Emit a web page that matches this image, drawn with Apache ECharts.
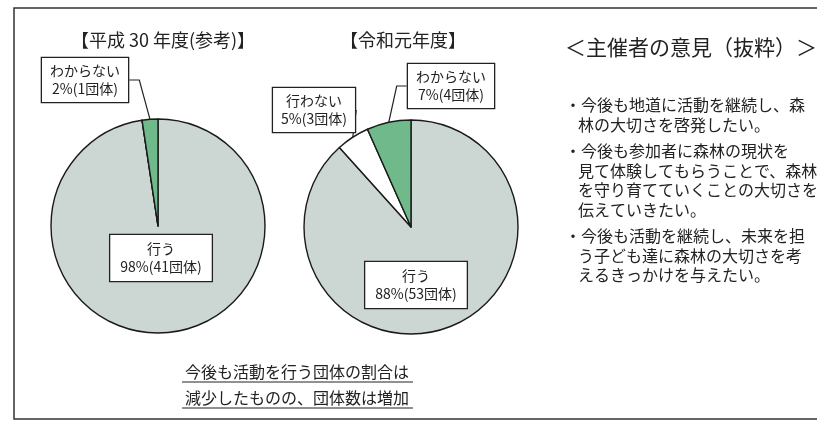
<!DOCTYPE html>
<html>
<head>
<meta charset="utf-8">
<script src="https://cdn.jsdelivr.net/npm/echarts@6/dist/echarts.min.js"></script>
<style>
  html, body { margin: 0; padding: 0; background: #fff; }
  #chart { width: 817px; height: 422px; }
</style>
</head>
<body>
<div id="chart"></div>
<script>
// answers and number of groups per year
const categories = ['行う', '行わない', 'わからない'];
const countsH30 = [41, 0, 1];
const countsR1 = [53, 3, 4];

const pieTitles = ['【平成 30 年度(参考)】', '【令和元年度】'];
const noteTitle = '＜主催者の意見（抜粋）＞';
const noteLines = [
  ['・今後も地道に活動を継続し、森', '林の大切さを啓発したい。'],
  ['・今後も参加者に森林の現状を', '見て体験してもらうことで、森林', 'を守り育てていくことの大切さを', '伝えていきたい。'],
  ['・今後も活動を継続し、未来を担', 'う子ども達に森林の大切さを考', 'えるきっかけを与えたい。']
];
const summaryLines = ['今後も活動を行う団体の割合は', '減少したものの、団体数は増加'];

const FONT = '"Noto Sans CJK JP", "Noto Sans", sans-serif';
const sliceColors = ['#ccd6d2', '#ffffff', '#6fb98a'];

// where each callout box sits (center), by data index
const calloutH30 = { 0: [161, 258], 2: [85, 80] };
const calloutR1 = { 0: [416, 285], 1: [314, 110], 2: [451, 86] };

const chart = echarts.init(document.getElementById('chart'));

function pieData(counts) {
  return categories.map((name, i) => ({
    name,
    value: counts[i],
    itemStyle: { color: sliceColors[i] },
    label: {
      show: counts[i] > 0,
      position: i === 0 ? 'inside' : 'outside',
      padding: i === 0 ? [5, 10] : [4, 8]
    },
    labelLine: { show: counts[i] > 0 && i !== 0 }
  }));
}

function pieSeries(counts, center, callouts) {
  return {
    type: 'pie',
    center,
    radius: 107,
    startAngle: 90,
    clockwise: true,
    silent: true,
    animation: false,
    percentPrecision: 0,
    avoidLabelOverlap: false,
    itemStyle: { borderColor: '#1a1a1a', borderWidth: 1.4 },
    label: {
      formatter: '{b}\n{d}%({c}団体)',
      fontFamily: FONT,
      fontSize: 14,
      lineHeight: 18,
      color: '#222',
      align: 'center',
      backgroundColor: '#fff',
      borderColor: '#222',
      borderWidth: 1.3,
      padding: [4, 8]
    },
    labelLine: {
      length: 10,
      length2: 10,
      lineStyle: { color: '#222', width: 1.2 }
    },
    labelLayout: (params) => {
      const p = callouts[params.dataIndex];
      if (!p) return {};
      return { x: p[0], y: p[1], align: 'center', verticalAlign: 'middle', hideOverlap: false };
    },
    data: pieData(counts)
  };
}

const graphics = [
  {
    type: 'rect',
    shape: { x: 14, y: 8, width: 830, height: 411 },
    style: { fill: 'none', stroke: '#333', lineWidth: 1.5 },
    silent: true
  },
  {
    type: 'text', x: 163, y: 40,
    style: { text: pieTitles[0], font: '18px ' + FONT, fill: '#222', align: 'center', verticalAlign: 'middle' }
  },
  {
    type: 'text', x: 403, y: 40,
    style: { text: pieTitles[1], font: '18px ' + FONT, fill: '#222', align: 'center', verticalAlign: 'middle' }
  },
  {
    type: 'text', x: 565, y: 47,
    style: { text: noteTitle, font: '21px ' + FONT, fill: '#222', align: 'left', verticalAlign: 'middle' }
  }
];

// right-hand comments
let y = 105;
noteLines.forEach((para) => {
  para.forEach((line, j) => {
    graphics.push({
      type: 'text', x: j === 0 ? 565 : 578, y,
      style: { text: line, font: '16px ' + FONT, fill: '#222', align: 'left', verticalAlign: 'middle' }
    });
    y += 19.5;
  });
  y += 7;
});

// underlined summary
summaryLines.forEach((line, i) => {
  const cy = 372 + i * 26;
  graphics.push({
    type: 'text', x: 297, y: cy,
    style: { text: line, font: '16px ' + FONT, fill: '#222', align: 'center', verticalAlign: 'middle' }
  });
  graphics.push({
    type: 'line',
    shape: { x1: 182, y1: cy + 10, x2: 413, y2: cy + 10 },
    style: { stroke: '#222', lineWidth: 1.2 }
  });
});

chart.setOption({
  backgroundColor: '#fff',
  animation: false,
  graphic: graphics,
  series: [
    pieSeries(countsH30, [158, 226], calloutH30),
    pieSeries(countsR1, [411, 227], calloutR1)
  ]
});
</script>
</body>
</html>
